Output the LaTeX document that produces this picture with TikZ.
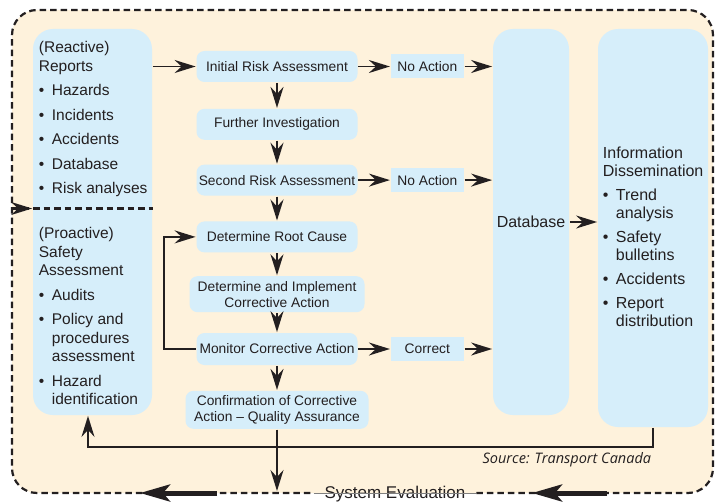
\documentclass[tikz,border=0pt]{standalone}
\usepackage{fontspec}
\setmainfont{Liberation Sans}
\newfontfamily\srcfont{Open Sans}
\usetikzlibrary{arrows.meta, positioning}

\definecolor{cream}{HTML}{FEF2DC}
\definecolor{boxblue}{HTML}{D6EEFA}
\definecolor{ink}{HTML}{231F20}

\newcommand{\bl}{\makebox[13pt][l]{\textbullet}}
\newcommand{\ind}{\hspace*{13pt}}

\begin{document}
\begin{tikzpicture}[x=1pt, y=-1pt, arrows={-Stealth[length=21pt, width=13pt, inset=7pt]},
                    line width=1.8pt, color=ink]
  \tikzstyle{stepbox}=[fill=boxblue, rounded corners=8pt, minimum width=161pt, minimum height=31pt,
                       inner sep=2pt, align=center, font=\fontsize{13.8}{16}\selectfont]
  \tikzstyle{tagbox}=[fill=boxblue, minimum width=73pt, minimum height=24pt, inner sep=2pt,
                      font=\fontsize{13.8}{16}\selectfont]
  \tikzstyle{tallbox}=[fill=boxblue, rounded corners=20pt, inner sep=0pt]
  \tikzstyle{listtext}=[anchor=north west, inner sep=0pt, align=left, font=\fontsize{15.5}{18.5}\selectfont]
  \tikzstyle{border}=[-, dash pattern=on 6.5pt off 4pt, line width=2.2pt]
  \tikzstyle{bigarrow}=[-{Stealth[length=30pt, width=17pt, inset=7pt]}, line width=5pt]

  \useasboundingbox (0,0) rectangle (715,503);
  \fill[cream, rounded corners=25pt] (12,10) rectangle (713,493);

  % columns
  \node[tallbox, minimum width=119pt, minimum height=386pt] (left) at (92.5,222) {};
  \node[tallbox, minimum width=76pt, minimum height=386pt, font=\fontsize{16}{18}\selectfont]
       (database) at (531,222) {Database};
  \node[tallbox, minimum width=110pt, minimum height=398pt] (info) at (653,228) {};

  % middle steps
  \node[stepbox] (init)                                     at (277,66.5) {Initial Risk Assessment};
  \node[stepbox] (further)   [below =25pt of init]                       {Further Investigation};
  \node[stepbox] (second)    [below =23pt of further]                    {Second Risk Assessment};
  \node[stepbox] (rootcause) [below =24pt of second]                     {Determine Root Cause};
  \node[stepbox, minimum width=175pt, minimum height=36pt]
                 (implement) [below =22pt of rootcause] {Determine and Implement\\Corrective Action};
  \node[stepbox, minimum height=32pt]
                 (monitor)   [below =19pt of implement]                  {Monitor Corrective Action};
  \node[stepbox, minimum width=183pt, minimum height=38pt]
                 (confirm)   [below =24pt of monitor] {Confirmation of Corrective\\Action -- Quality Assurance};

  \node[tagbox]  (noact1)    [right =31.5pt of init]                     {No Action};
  \node[tagbox]  (noact2)    [right =31.5pt of second]                   {No Action};
  \node[tagbox]  (correct)   [right =31.5pt of monitor]                  {Correct};

  % lists
  \node[listtext] (reactive) at (38,40.7)
       {(Reactive)\\Reports\\[6pt]\bl Hazards\\[6pt]\bl Incidents\\[6pt]\bl Accidents\\[6pt]\bl Database\\[6pt]\bl Risk analyses};
  \node[listtext] (proactive) at (38,226.7)
       {(Proactive)\\Safety\\Assessment\\[6pt]\bl Audits\\[6pt]\bl Policy and\\\ind procedures\\\ind assessment\\[6pt]\bl Hazard\\\ind identification};
  \node[listtext, font=\fontsize{16}{18}\selectfont] (dissem) at (602,146.3)
       {Information\\Dissemination\\[6pt]\bl Trend\\\ind analysis\\[6pt]\bl Safety\\\ind bulletins\\[6pt]\bl Accidents\\[6pt]\bl Report\\\ind distribution};

  \node[font=\srcfont\itshape\fontsize{14.5}{16}\selectfont, anchor=east, inner sep=0pt]
       (source) at (652,460) {Source: Transport Canada};
  \node[font=\fontsize{17}{19}\selectfont, inner xsep=10pt, inner ysep=0pt] (eval) at (395,494.5) {System Evaluation};

  % border
  \coordinate (bot) at (0,493);
  \draw[-, gray, line width=0.6pt] (eval.west |- bot) -- (eval.east |- bot);
  \draw[border, rounded corners=25pt] (eval.east |- bot) -- (713,493) -- (713,10) -- (12,10) -- (12,493) -- (eval.west |- bot);
  \coordinate (lefttail) at (217,493);
  \coordinate (lefttip) at (140,493);
  \coordinate (righttail) at (607,493);
  \coordinate (righttip) at (532,493);
  \draw[bigarrow] (lefttail) -- (lefttip);
  \draw[bigarrow] (righttail) -- (righttip);

  \coordinate (loopin) at (12,208.5);
  \draw[border] (loopin) -- (loopin -| left.east);
  \draw (loopin) -- (loopin -| left.west);

  % connectors
  \draw (left.east |- init) -- (init.west);
  \draw (init) -- (further);
  \draw (further) -- (second);
  \draw (second) -- (rootcause);
  \draw (rootcause) -- (implement);
  \draw (implement) -- (monitor);
  \draw (monitor) -- (confirm);
  \draw (init) -- (noact1);
  \draw (noact1) -- (noact1 -| database.west);
  \draw (second) -- (noact2);
  \draw (noact2) -- (noact2 -| database.west);
  \draw (monitor) -- (correct);
  \draw (correct) -- (correct -| database.west);
  \draw (database.east) -- (database.east -| info.west);
  \draw (monitor.west) -- ++(-32,0) |- (rootcause.west);

  \coordinate (fb) at (88,447);
  \coordinate (evalin) at (275.5,491);
  \draw (info.south) |- (fb) -- (fb |- left.south);
  \draw (confirm.south) -- (confirm.south |- evalin);
\end{tikzpicture}
\end{document}
